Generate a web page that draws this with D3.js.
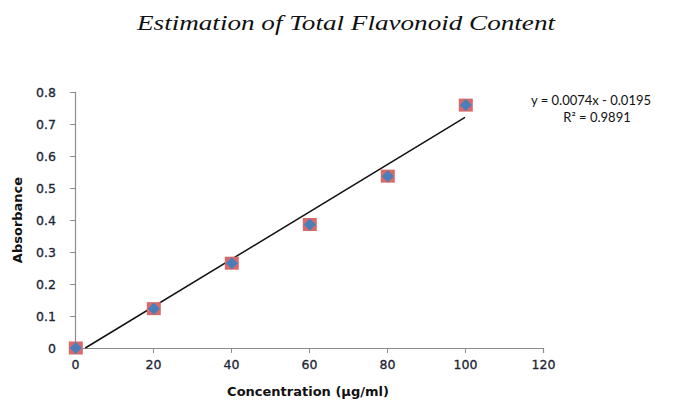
<!DOCTYPE html>
<html>
<head>
<meta charset="utf-8">
<script src="https://cdn.jsdelivr.net/npm/d3@7"></script>
<style>
  body { margin: 0; background: #fff; }
  svg text { font-family: "Lato", "Liberation Sans", sans-serif; }
</style>
</head>
<body>
<div id="graph1"></div>
<script>
// data
var concentration = [0, 20, 40, 60, 80, 100];
var absorbance = [0, 0.123, 0.265, 0.386, 0.537, 0.759];
var xTicks = [0, 20, 40, 60, 80, 100, 120];
var yTicks = [0, 0.1, 0.2, 0.3, 0.4, 0.5, 0.6, 0.7, 0.8];
var slope = 0.0074, intercept = -0.0195;

var W = 692, H = 403;

var svg = d3.select("#graph1").append("svg")
    .attr("width", W)
    .attr("height", H);

var xScale = d3.scaleLinear().domain([0, 120]).range([75, 543]);
var yScale = d3.scaleLinear().domain([0, 0.8]).range([348, 92]);

// title
svg.append("text")
    .attr("x", 137).attr("y", 30)
    .attr("textLength", 418)
    .attr("lengthAdjust", "spacingAndGlyphs")
    .style("font-family", "'Liberation Serif', serif")
    .style("font-style", "italic")
    .style("font-size", "22px")
    .style("fill", "#111")
    .text("Estimation of  Total Flavonoid Content");

// x axis
var xAxis = svg.append("g")
    .attr("transform", "translate(0," + yScale(0) + ")")
    .call(d3.axisBottom(xScale).tickValues(xTicks).tickSize(5).tickPadding(7).tickFormat(d3.format("d")));
// y axis
var yAxis = svg.append("g")
    .attr("transform", "translate(" + xScale(0) + ",0)")
    .call(d3.axisLeft(yScale).tickValues(yTicks).tickSize(5).tickPadding(14)
        .tickFormat(function(d) { return d === 0 ? "0" : d3.format(".1f")(d); }));

[xAxis, yAxis].forEach(function(a) {
  a.select(".domain").attr("stroke", "#8c8c8c").attr("stroke-width", 1.2);
  a.selectAll(".tick line").attr("stroke", "#8c8c8c");
  a.selectAll(".tick text")
    .style("font-size", "12.5px")
    .style("font-family", "'DejaVu Sans', sans-serif")
    .attr("fill", "#1c2436")
    .attr("stroke", "#1c2436")
    .attr("stroke-width", 0.3);
});
xAxis.selectAll(".tick line").attr("y1", 0);

// axis labels
svg.append("text")
    .attr("x", 308).attr("y", 396)
    .attr("text-anchor", "middle")
    .style("font-family", "'DejaVu Sans', sans-serif")
    .style("font-weight", "bold")
    .style("font-size", "13px")
    .style("fill", "#111")
    .text("Concentration (\u00b5g/ml)");

svg.append("text")
    .attr("transform", "translate(22,220) rotate(-90)")
    .attr("text-anchor", "middle")
    .style("font-family", "'DejaVu Sans', sans-serif")
    .style("font-weight", "bold")
    .style("font-size", "13px")
    .style("fill", "#111")
    .text("Absorbance");

// linear trendline, clipped at y = 0 like the plot area
var x0 = -intercept / slope;
var trend = [x0, 100].map(function(x) { return [x, slope * x + intercept]; });
svg.append("path")
    .datum(trend)
    .attr("fill", "none")
    .attr("stroke", "#111")
    .attr("stroke-width", 1.5)
    .attr("d", d3.line()
        .x(function(d) { return xScale(d[0]); })
        .y(function(d) { return yScale(d[1]); }));

// markers: red square with blue diamond
var pts = concentration.map(function(c, i) { return { x: c, y: absorbance[i] }; });
var mk = svg.selectAll(".dot").data(pts).enter().append("g")
    .attr("class", "dot")
    .attr("transform", function(d) { return "translate(" + (xScale(d.x) + 0.8) + "," + yScale(d.y) + ")"; });
mk.append("rect")
    .attr("x", -7).attr("y", -6.5).attr("width", 14).attr("height", 13)
    .attr("fill", "#d86a6a");
mk.append("path")
    .attr("d", "M0,-6L6,0L0,6L-6,0Z")
    .attr("fill", "#4a7ebb");

// equation
svg.append("text")
    .attr("x", 591).attr("y", 105)
    .attr("text-anchor", "middle")
    .style("font-size", "13px")
    .style("fill", "#111")
    .text("y = 0.0074x - 0.0195");
svg.append("text")
    .attr("x", 597).attr("y", 122)
    .attr("text-anchor", "middle")
    .style("font-size", "13px")
    .style("fill", "#111")
    .text("R\u00b2 = 0.9891");
</script>
</body>
</html>
